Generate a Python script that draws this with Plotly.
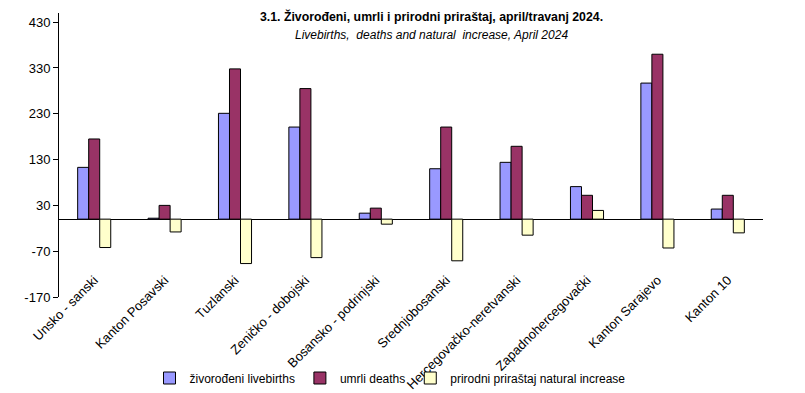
import plotly.graph_objects as go

categories = ["Unsko - sanski", "Kanton Posavski", "Tuzlanski", "Zeničko - dobojski",
              "Bosansko - podrinjski", "Srednjobosanski", "Hercegovačko-neretvanski",
              "Zapadnohercegovački", "Kanton Sarajevo", "Kanton 10"]
livebirths = [113, 2, 231, 201, 13, 110, 124, 71, 297, 22]
deaths = [175, 30, 328, 285, 24, 201, 159, 52, 360, 52]
natural = [-62, -28, -97, -84, -11, -91, -35, 19, -63, -30]
yticks = [-170, -70, 30, 130, 230, 330, 430]

series_names = ["živorođeni livebirths", "umrli deaths", "prirodni priraštaj natural increase"]
colors = ["#9999FF", "#993366", "#FFFFCC"]

FONT = "Liberation Sans, Arial"

fig = go.Figure()
for name, vals, col in zip(series_names, [livebirths, deaths, natural], colors):
    fig.add_trace(go.Bar(x=categories, y=vals, name=name,
                         marker=dict(color=col, line=dict(color="black", width=1))))

OFF = 8  # default page body margin
W, H = 805 - OFF, 393 - OFF
ML, MR, MT, MB = 59 - OFF, 42, 13 - OFF, 96
plot_w = W - ML - MR
plot_h = H - MT - MB


def px_x(x):
    return (x - OFF - ML) / plot_w


def px_y(y):
    return (H - MB - (y - OFF)) / plot_h


fig.update_layout(
    width=W, height=H,
    margin=dict(l=ML, r=MR, t=MT, b=MB, autoexpand=False),
    paper_bgcolor="white", plot_bgcolor="white",
    barmode="group", bargap=0.53, bargroupgap=0,
    font=dict(family=FONT, size=12, color="black"),
    showlegend=True,
    legend=dict(orientation="h", x=px_x(390), xanchor="center",
                y=px_y(378), yanchor="middle",
                font=dict(family=FONT, size=12), itemwidth=30, tracegroupgap=0,
                bgcolor="rgba(0,0,0,0)"),
    xaxis=dict(showline=False, ticks="", tickangle=-45, showgrid=False, automargin=False,
               ticklabelstandoff=-28,
               tickfont=dict(family=FONT, size=13)),
    yaxis=dict(range=[-170, 450], tickvals=yticks, ticktext=[str(v) for v in yticks],
               showgrid=False, showline=True, linecolor="black", linewidth=1,
               ticks="outside", ticklen=5, tickcolor="black", automargin=False,
               zeroline=True, zerolinecolor="black", zerolinewidth=1,
               tickfont=dict(family=FONT, size=13)),
    annotations=[
        dict(text="<b>3.1. Živorođeni, umrli i prirodni priraštaj, april/travanj 2024.</b>",
             x=px_x(431), y=px_y(17),
             xref="paper", yref="paper", showarrow=False, yanchor="middle",
             font=dict(family=FONT, size=12.3)),
        dict(text="<i>Livebirths,  deaths and natural  increase, April 2024</i>",
             x=px_x(431), y=px_y(35),
             xref="paper", yref="paper", showarrow=False, yanchor="middle",
             font=dict(family=FONT, size=12)),
    ],
)

fig.write_html("out.html")
